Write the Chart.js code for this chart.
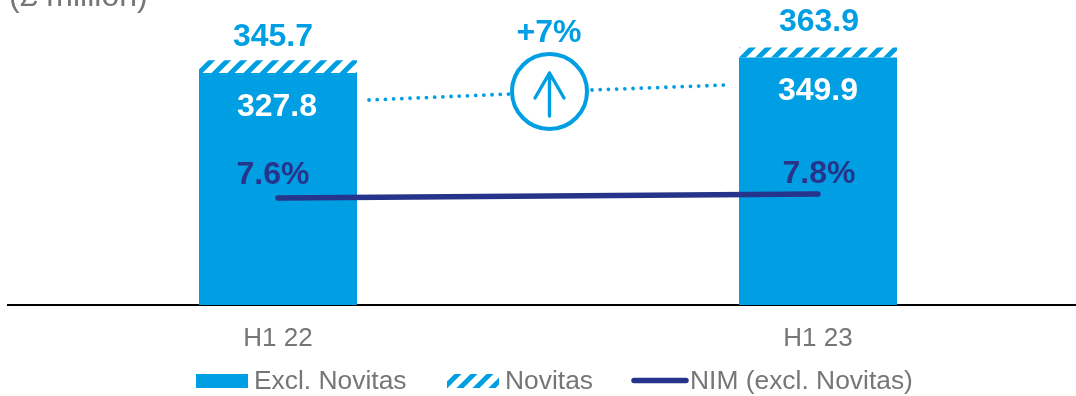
<!DOCTYPE html>
<html>
<head>
<meta charset="utf-8">
<style>
html,body{margin:0;padding:0;background:#fff;overflow:hidden;width:1076px;height:396px}
#wrap{width:1076px;height:396px;overflow:hidden}
canvas{display:block}
</style>
<script src="https://cdn.jsdelivr.net/npm/chart.js@4"></script>
</head>
<body>
<div id="wrap"><canvas id="c" width="1096" height="396"></canvas></div>
<script>
const categories = ['H1 22', 'H1 23'];
const exclNovitas = [327.8, 349.9];
const novitas = [17.9, 14.0];
const totals = [345.7, 363.9];
const nim = [7.6, 7.8];
const unitLabel = '(£ million)';
const growthLabel = '+7%';

const BLUE = '#009fe3';
const NAVY = '#27348b';
const GREY = '#767676';
const FONT = '"Liberation Sans", Arial, sans-serif';

// Diagonal stripes for the Novitas portion of each bar
function stripes() {
  const size = 16;
  const p = document.createElement('canvas');
  p.width = p.height = size;
  const g = p.getContext('2d');
  g.fillStyle = '#fff';
  g.fillRect(0, 0, size, size);
  g.strokeStyle = BLUE;
  g.lineWidth = 5;
  for (const o of [-size, 0, size]) {
    g.beginPath();
    g.moveTo(o - size, 2 * size);
    g.lineTo(o + 2 * size, -size);
    g.stroke();
  }
  return document.getElementById('c').getContext('2d').createPattern(p, 'repeat');
}
const hatch = stripes();

function text(ctx, str, x, y, font, color, align) {
  ctx.font = font;
  ctx.fillStyle = color;
  ctx.textAlign = align || 'center';
  ctx.textBaseline = 'alphabetic';
  ctx.fillText(str, x, y);
}

// Value labels, growth badge, unit caption and legend row
const overlay = {
  id: 'overlay',
  afterDatasetsDraw(chart) {
    const { ctx, scales: { x, y, y1 } } = chart;
    ctx.save();

    text(ctx, unitLabel, 9, 6, '32px ' + FONT, GREY, 'left');

    const bold = 'bold 32px ' + FONT;
    const labelDx = [-5, 1];
    const totalLift = [14, 16];
    const nimLift = [14, 11];
    categories.forEach((c, i) => {
      const cx = x.getPixelForValue(i);
      text(ctx, totals[i].toFixed(1), cx + labelDx[i], y.getPixelForValue(totals[i]) - totalLift[i], bold, BLUE);
      text(ctx, exclNovitas[i].toFixed(1), cx - (i ? 0 : 1), y.getPixelForValue(exclNovitas[i]) + 43, bold, '#fff');
      text(ctx, nim[i].toFixed(1) + '%', cx + labelDx[i], y1.getPixelForValue(nim[i]) - nimLift[i], bold, NAVY);
    });

    // Growth badge between the bars
    text(ctx, growthLabel, 549, 42, bold, BLUE);
    ctx.strokeStyle = BLUE;
    ctx.lineWidth = 4;
    ctx.beginPath();
    ctx.arc(549.5, 91.5, 37.5, 0, Math.PI * 2);
    ctx.stroke();
    ctx.lineWidth = 3.4;
    ctx.lineCap = 'round';
    ctx.lineJoin = 'round';
    ctx.beginPath();
    ctx.moveTo(549.5, 116);
    ctx.lineTo(549.5, 73);
    ctx.moveTo(535, 98);
    ctx.lineTo(549.5, 73);
    ctx.lineTo(564, 98);
    ctx.stroke();

    // Dotted connector either side of the badge
    ctx.lineWidth = 3.8;
    ctx.setLineDash([0.01, 8.2]);
    ctx.beginPath();
    ctx.moveTo(369, 100);
    ctx.lineTo(510, 94);
    ctx.moveTo(592, 90);
    ctx.lineTo(727, 85);
    ctx.stroke();
    ctx.setLineDash([]);

    // Legend row
    const legendFont = '26.4px ' + FONT;
    const base = 389;
    ctx.fillStyle = BLUE;
    ctx.fillRect(196, 374, 52, 14);
    text(ctx, chart.data.datasets[0].label, 254, base, legendFont, GREY, 'left');

    ctx.fillStyle = hatch;
    ctx.fillRect(447, 374, 52, 14);
    text(ctx, chart.data.datasets[1].label, 505, base, legendFont, GREY, 'left');

    ctx.strokeStyle = NAVY;
    ctx.lineWidth = 5.5;
    ctx.lineCap = 'round';
    ctx.beginPath();
    ctx.moveTo(634, 380.5);
    ctx.lineTo(686, 380.5);
    ctx.stroke();
    text(ctx, chart.data.datasets[2].label, 690, base, legendFont, GREY, 'left');

    ctx.restore();
  }
};

new Chart(document.getElementById('c'), {
  data: {
    labels: categories,
    datasets: [
      { type: 'bar', label: 'Excl. Novitas', data: exclNovitas, backgroundColor: BLUE, yAxisID: 'y', stack: 's', order: 2 },
      { type: 'bar', label: 'Novitas', data: novitas, backgroundColor: hatch, yAxisID: 'y', stack: 's', order: 2 },
      { type: 'line', label: 'NIM (excl. Novitas)', data: nim, borderColor: NAVY, borderWidth: 5.5, borderCapStyle: 'round',
        pointRadius: 0, tension: 0, yAxisID: 'y1', order: 1 }
    ]
  },
  plugins: [overlay],
  options: {
    responsive: false,
    animation: false,
    events: [],
    layout: { padding: { left: 8, right: 8, top: 0, bottom: 0 } },
    datasets: { bar: { categoryPercentage: 1, barPercentage: 158 / 540 } },
    plugins: { legend: { display: false }, tooltip: { enabled: false } },
    scales: {
      x: {
        stacked: true,
        grid: { display: false, drawTicks: false },
        border: { color: '#000', width: 2 },
        ticks: { color: GREY, font: { family: FONT, size: 26 }, padding: 18, maxRotation: 0 },
        afterFit(s) { s.height = 91; }
      },
      y: { stacked: true, display: false, min: 0, max: 431 },
      y1: { display: false, min: 2.25, max: 17.5 }
    }
  }
});
</script>
</body>
</html>
